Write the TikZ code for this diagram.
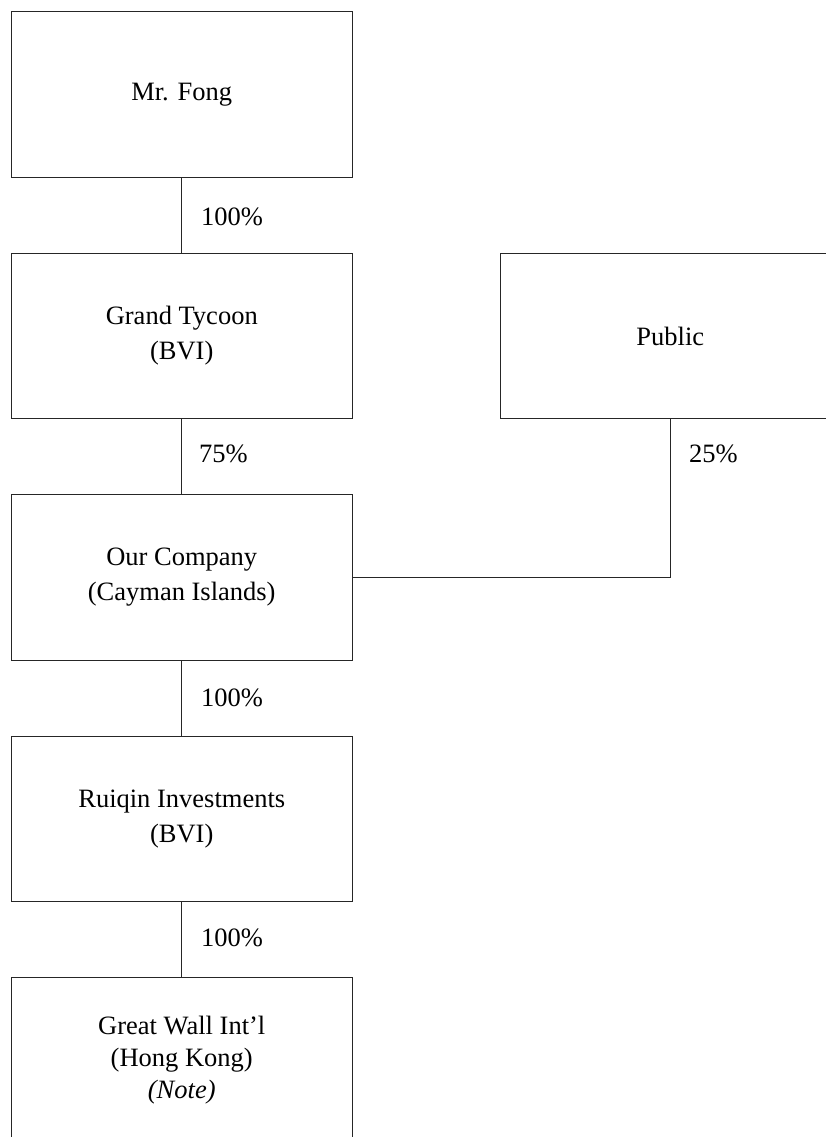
\documentclass[tikz,border=0pt]{standalone}
\usepackage{fontspec}
\setmainfont{Liberation Serif}
\usepackage{tikz}
\usetikzlibrary{positioning, arrows, shapes}
\tikzstyle{link} = [line width=1pt, draw=black!85]

\begin{document}
\begin{tikzpicture}[x=1pt, y=-1pt]
                \tikzstyle{every node}=[font=\fontsize{26.5}{35}\selectfont]
                \tikzstyle{entity} = [rectangle, draw=black!85, line width=1pt, minimum width=340.5pt, minimum height=165.6pt, align=center, inner sep=0pt]
                \tikzstyle{share} = [anchor=base west, inner sep=0pt]

                % page frame
                \useasboundingbox (0,0) rectangle (826,1137);
                \clip (0,0) rectangle (826,1137);

                \node[entity](fong) at (181.75, 94.5) {Mr. Fong};
                \node[entity](tycoon) at (181.75, 336) {Grand Tycoon\\(BVI)};
                \node[entity](public) at (670.3, 336) {Public};
                \node[entity](company) at (181.75, 577.3) {Our Company\\(Cayman Islands)};
                \node[entity](ruiqin) at (181.75, 818.8) {Ruiqin Investments\\(BVI)};
                \node[entity, font=\fontsize{26.5}{32}\selectfont](greatwall) at (181.75, 1060.3) {Great Wall Int'l\\(Hong Kong)\\\textit{(Note)}};

                \draw[link] (fong) -- (tycoon);
                \draw[link] (tycoon) -- (company);
                \draw[link] (company) -- (ruiqin);
                \draw[link] (ruiqin) -- (greatwall);
                \draw[link] (public.south) |- (company.east);

                % ownership shares
                \node[share](s1) at (201, 225) {100\%};
                \node[share](s2) at (199, 462.5) {75\%};
                \node[share](s3) at (689, 462) {25\%};
                \node[share](s4) at (201, 706.5) {100\%};
                \node[share](s5) at (201, 946.5) {100\%};

        \end{tikzpicture}
\end{document}
